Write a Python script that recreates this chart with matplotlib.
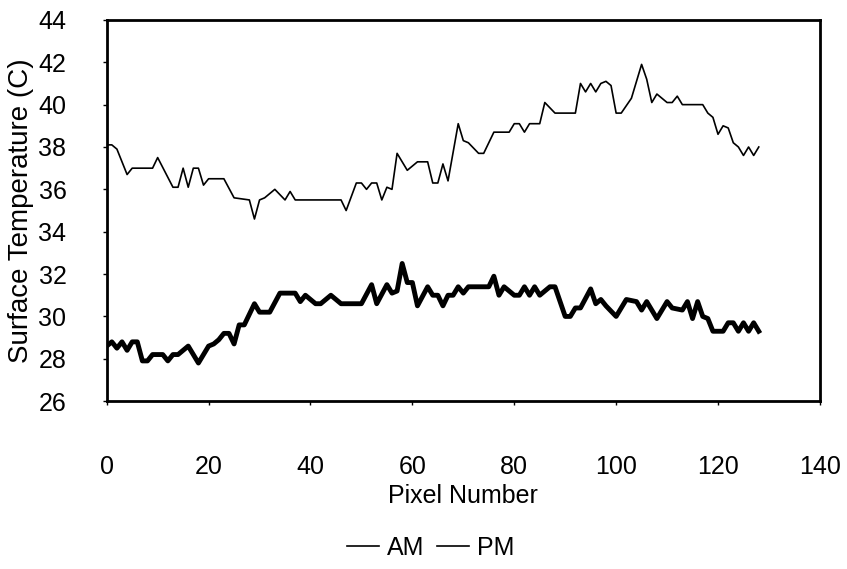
import matplotlib.pyplot as plt

plt.rcParams['font.family'] = ['Liberation Sans', 'DejaVu Sans']

# AM trace (pixel number, surface temperature)
am_x = [0, 1, 2, 3, 4, 5, 6, 7, 8, 9, 11, 12, 13, 14, 16, 17, 18, 20, 21, 22,
        23, 24, 25, 26, 27, 29, 30, 32, 34, 37, 38, 39, 41, 42, 44, 46, 50, 52,
        53, 55, 56, 57, 58, 59, 60, 61, 63, 64, 65, 66, 67, 68, 69, 70, 71, 75,
        76, 77, 78, 80, 81, 82, 83, 84, 85, 87, 88, 90, 91, 92, 93, 95, 96, 97,
        98, 100, 102, 104, 105, 106, 108, 110, 111, 113, 114, 115, 116, 117,
        118, 119, 121, 122, 123, 124, 125, 126, 127, 128]
am_t = [28.6, 28.8, 28.5, 28.8, 28.4, 28.8, 28.8, 27.9, 27.9, 28.2, 28.2, 27.9,
        28.2, 28.2, 28.6, 28.2, 27.8, 28.6, 28.7, 28.9, 29.2, 29.2, 28.7, 29.6,
        29.6, 30.6, 30.2, 30.2, 31.1, 31.1, 30.7, 31.0, 30.6, 30.6, 31.0, 30.6,
        30.6, 31.5, 30.6, 31.5, 31.1, 31.2, 32.5, 31.6, 31.6, 30.5, 31.4, 31.0,
        31.0, 30.5, 31.0, 31.0, 31.4, 31.1, 31.4, 31.4, 31.9, 31.0, 31.4, 31.0,
        31.0, 31.4, 31.0, 31.4, 31.0, 31.4, 31.4, 30.0, 30.0, 30.4, 30.4, 31.3,
        30.6, 30.8, 30.5, 30.0, 30.8, 30.7, 30.3, 30.7, 29.9, 30.7, 30.4, 30.3,
        30.7, 29.9, 30.7, 30.0, 29.9, 29.3, 29.3, 29.7, 29.7, 29.3, 29.7, 29.3,
        29.7, 29.3]

# PM trace
pm_x = [0, 1, 2, 4, 5, 9, 10, 13, 14, 15, 16, 17, 18, 19, 20, 23, 25, 28, 29,
        30, 31, 33, 35, 36, 37, 46, 47, 49, 50, 51, 52, 53, 54, 55, 56, 57, 59,
        61, 63, 64, 65, 66, 67, 69, 70, 71, 73, 74, 76, 79, 80, 81, 82, 83, 85,
        86, 88, 92, 93, 94, 95, 96, 97, 98, 99, 100, 101, 103, 105, 106, 107,
        108, 110, 111, 112, 113, 117, 118, 119, 120, 121, 122, 123, 124, 125,
        126, 127, 128]
pm_t = [38.1, 38.1, 37.9, 36.7, 37.0, 37.0, 37.5, 36.1, 36.1, 37.0, 36.1, 37.0,
        37.0, 36.2, 36.5, 36.5, 35.6, 35.5, 34.6, 35.5, 35.6, 36.0, 35.5, 35.9,
        35.5, 35.5, 35.0, 36.3, 36.3, 36.0, 36.3, 36.3, 35.5, 36.1, 36.0, 37.7,
        36.9, 37.3, 37.3, 36.3, 36.3, 37.2, 36.4, 39.1, 38.3, 38.2, 37.7, 37.7,
        38.7, 38.7, 39.1, 39.1, 38.7, 39.1, 39.1, 40.1, 39.6, 39.6, 41.0, 40.6,
        41.0, 40.6, 41.0, 41.1, 40.9, 39.6, 39.6, 40.3, 41.9, 41.2, 40.1, 40.5,
        40.1, 40.1, 40.4, 40.0, 40.0, 39.6, 39.4, 38.6, 39.0, 38.9, 38.2, 38.0,
        37.6, 38.0, 37.6, 38.0]

x_ticks = [0, 20, 40, 60, 80, 100, 120, 140]
y_ticks = [26, 28, 30, 32, 34, 36, 38, 40, 42, 44]

fig = plt.figure(figsize=(8.47, 5.69), dpi=100)
ax = fig.add_axes([0.126, 0.295, 0.842, 0.67])

ax.plot(am_x, am_t, color='black', linewidth=3.5, label='AM')
ax.plot(pm_x, pm_t, color='black', linewidth=1.2, label='PM')

ax.set_xlim(0, 140)
ax.set_ylim(26, 44)
ax.set_xticks(x_ticks)
ax.set_yticks(y_ticks)
ax.tick_params(axis='x', direction='out', length=3, width=1, pad=36, labelsize=18)
ax.tick_params(axis='y', direction='out', length=3, width=1, pad=26, labelsize=18)
for s in ax.spines.values():
    s.set_linewidth(2)

ax.set_xlabel('Pixel Number', fontsize=18)
ax.xaxis.label.set_va('center')
ax.xaxis.set_label_coords(0.5, -0.25)
ax.set_ylabel('Surface Temperature (C)', fontsize=20)
ax.yaxis.label.set_va('center')
ax.yaxis.set_label_coords(-0.12, 0.5)

fig.legend(loc='center', bbox_to_anchor=(0.508, 0.037), ncol=2, frameon=False,
           fontsize=18, handlelength=1.3, handletextpad=0.3, columnspacing=0.5)
for line in fig.legends[0].get_lines():
    line.set_linewidth(1.2)

fig.savefig('out.png', dpi=100)
